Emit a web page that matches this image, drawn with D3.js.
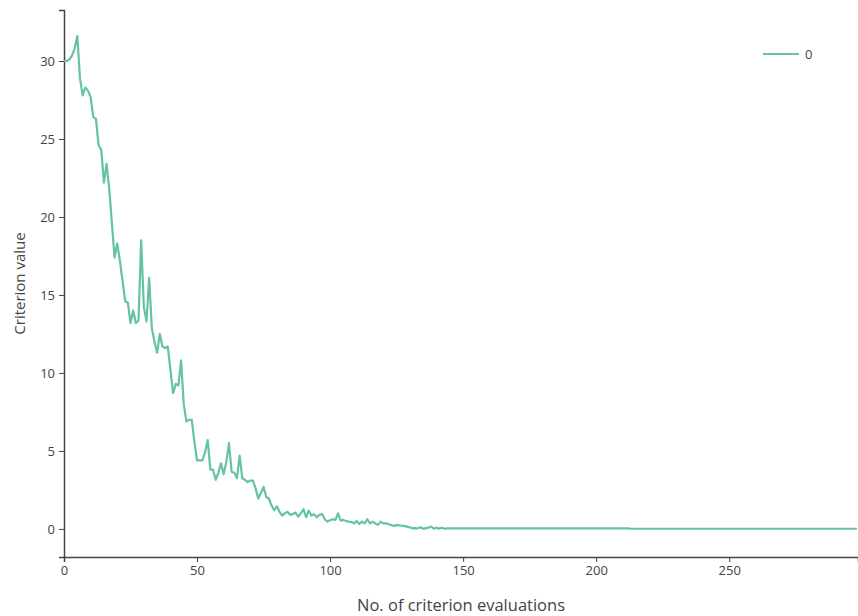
<!DOCTYPE html>
<html>
<head>
<meta charset="utf-8">
<script src="https://cdn.jsdelivr.net/npm/d3@7"></script>
<style>
  body { margin: 0; background: #fff; }
  text { font-family: "Open Sans", sans-serif; }
</style>
</head>
<body>
<script>
/* criterion value at each evaluation (index = evaluation number) */
var seriesName = "0";
var criterion = [
  30.0, 30.0, 30.1, 30.35, 30.8, 31.6, 28.9, 27.8, 28.3, 28.1,
  27.7, 26.4, 26.3, 24.6, 24.3, 22.2, 23.4, 21.8, 19.6, 17.4,
  18.3, 17.2, 15.9, 14.6, 14.5, 13.2, 14.0, 13.2, 13.35, 18.5,
  14.25, 13.3, 16.1, 12.9, 12.0, 11.3, 12.5, 11.7, 11.6, 11.7,
  10.2, 8.7, 9.3, 9.2, 10.8, 8.0, 6.9, 7.0, 7.0, 5.6,
  4.4, 4.4, 4.4, 4.9, 5.7, 3.8, 3.8, 3.15, 3.6, 4.2,
  3.5, 4.3, 5.5, 3.65, 3.6, 3.25, 4.7, 3.25, 3.15, 3.0,
  3.1, 3.1, 2.6, 1.95, 2.3, 2.7, 2.05, 1.95, 1.5, 1.2,
  1.45, 1.1, 0.85, 1.0, 1.1, 0.9, 0.95, 1.05, 0.78, 1.0,
  1.26, 0.75, 1.17, 0.85, 0.95, 0.75, 0.9, 0.96, 0.62, 0.47,
  0.55, 0.62, 0.58, 1.0, 0.53, 0.58, 0.5, 0.47, 0.45, 0.36,
  0.51, 0.32, 0.47, 0.36, 0.62, 0.36, 0.47, 0.35, 0.26, 0.47,
  0.36, 0.36, 0.30, 0.25, 0.19, 0.26, 0.23, 0.21, 0.18, 0.15,
  0.1, 0.04, 0.05, 0.04, 0.11, 0.0, 0.05, 0.08, 0.15, 0.02,
  0.08, 0.02, 0.08, 0.01,
  0.04, 0.04, 0.04, 0.04, 0.04, 0.04, 0.04, 0.04, 0.04, 0.04,
  0.04, 0.04, 0.04, 0.04, 0.04, 0.04, 0.04, 0.04, 0.04, 0.04,
  0.04, 0.04, 0.04, 0.04, 0.04, 0.04, 0.04,
  0.03, 0.03, 0.03, 0.03, 0.03, 0.03, 0.03, 0.03, 0.03, 0.03,
  0.03, 0.03, 0.03, 0.03, 0.03, 0.03, 0.03, 0.03, 0.03, 0.03,
  0.03, 0.03, 0.03, 0.03, 0.03, 0.03, 0.03, 0.03, 0.03, 0.03,
  0.03, 0.03, 0.03, 0.03, 0.03, 0.03, 0.03, 0.03, 0.03, 0.03,
  0.03, 0.03,
  0.01, 0.01, 0.01, 0.01, 0.01, 0.01, 0.01, 0.01, 0.01, 0.01,
  0.01, 0.01, 0.01, 0.01, 0.01, 0.01, 0.01, 0.01, 0.01, 0.01,
  0.01, 0.01, 0.01, 0.01, 0.01, 0.01, 0.01, 0.01, 0.01, 0.01,
  0.01, 0.01, 0.01, 0.01, 0.01, 0.01, 0.01, 0.01, 0.01, 0.01,
  0.01, 0.01, 0.01, 0.01, 0.01, 0.01, 0.01, 0.01, 0.01, 0.01,
  0.01, 0.01, 0.01, 0.01, 0.01, 0.01, 0.01, 0.01, 0.01, 0.01,
  0.01, 0.01, 0.01, 0.01, 0.01, 0.01, 0.01, 0.01, 0.01, 0.01,
  0.01, 0.01, 0.01, 0.01, 0.01, 0.01, 0.01, 0.01, 0.01, 0.01,
  0.01, 0.01, 0.01, 0.01, 0.01, 0.01
];
var xTicks = [0, 50, 100, 150, 200, 250];
var yTicks = [0, 5, 10, 15, 20, 25, 30];

var W = 858, H = 616;
var margin = {top: 10, right: 0, bottom: 59, left: 64};
var width = W - margin.left - margin.right,
    height = H - margin.top - margin.bottom;

var svg = d3.select("body").append("svg")
    .attr("width", W)
    .attr("height", H)
  .append("g")
    .attr("transform", "translate(" + margin.left + "," + margin.top + ")");

var x = d3.scaleLinear().domain([0, 298.4]).range([0, width]);
var y = d3.scaleLinear().domain([-1.8, 33.27]).range([height, 0]);

var axisColor = "#444";
var lineColor = "#66c2a5";

// axes
var xAxis = svg.append("g")
    .attr("transform", "translate(0," + height + ")")
    .call(d3.axisBottom(x).tickValues(xTicks).tickSize(5).tickPadding(4));
var yAxis = svg.append("g")
    .call(d3.axisLeft(y).tickValues(yTicks).tickSize(5).tickPadding(4));

[xAxis, yAxis].forEach(function(g) {
  g.select(".domain").attr("stroke", axisColor).attr("stroke-width", 1.5);
  g.selectAll(".tick line").attr("stroke", axisColor).attr("stroke-width", 1);
  g.selectAll(".tick text")
      .attr("fill", axisColor)
      .style("font-size", "13px")
      .style("font-family", "'Open Sans', sans-serif");
});

// axis titles
svg.append("text")
    .attr("x", width / 2)
    .attr("y", height + 54)
    .attr("text-anchor", "middle")
    .attr("fill", axisColor)
    .style("font-size", "16.5px")
    .text("No. of criterion evaluations");

svg.append("text")
    .attr("transform", "rotate(-90)")
    .attr("x", -height / 2)
    .attr("y", -39)
    .attr("text-anchor", "middle")
    .attr("fill", axisColor)
    .style("font-size", "15px")
    .text("Criterion value");

// line
var line = d3.line()
    .x(function(d, i) { return x(i); })
    .y(function(d) { return y(d); });

svg.append("path")
    .datum(criterion)
    .attr("d", line)
    .attr("fill", "none")
    .attr("stroke", lineColor)
    .attr("stroke-width", 2.2)
    .attr("stroke-linejoin", "round");

// legend
var legend = svg.append("g")
    .attr("transform", "translate(" + (763 - margin.left) + "," + (54 - margin.top) + ")");
legend.append("line")
    .attr("x1", 0).attr("x2", 36)
    .attr("stroke", lineColor)
    .attr("stroke-width", 2.2);
legend.append("text")
    .attr("x", 42)
    .attr("dy", "0.35em")
    .attr("fill", axisColor)
    .style("font-size", "13px")
    .text(seriesName);
</script>
</body>
</html>
